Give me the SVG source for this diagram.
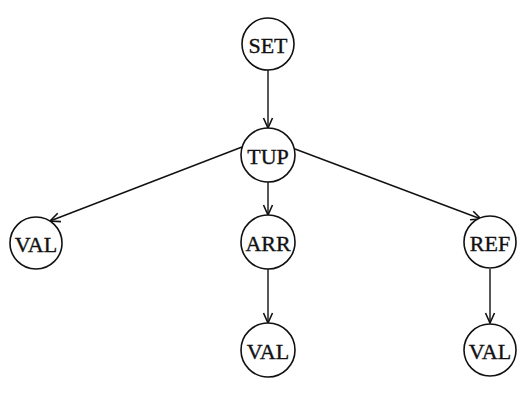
<svg xmlns="http://www.w3.org/2000/svg" width="524" height="411" viewBox="0 0 524 411">
  <style>
    .node circle { fill: #ffffff; stroke: #111111; stroke-width: 1.6; }
    .node text { font-family: "Liberation Serif", "Times New Roman", serif; font-size: 22px; fill: #111111; stroke: #111111; stroke-width: 0.35; text-anchor: middle; dominant-baseline: central; }
    .edges line { stroke: #111111; stroke-width: 1.4; marker-end: url(#arrow); }
  </style>
  <defs>
    <marker id="arrow" markerWidth="12" markerHeight="12" viewBox="0 0 12 12" refX="11" refY="6" orient="auto" markerUnits="userSpaceOnUse">
      <path d="M1,1.5 L11,6 L1,10.5" fill="none" stroke="#111111" stroke-width="1.6"/>
    </marker>
  </defs>
  <rect width="524" height="411" fill="#ffffff"/>

  <g class="edges" id="connectors">
    <line x1="268" y1="70" x2="268" y2="128"/>
    <line x1="242" y1="147" x2="50" y2="221"/>
    <line x1="268" y1="182" x2="268" y2="215"/>
    <line x1="295" y1="149" x2="481" y2="219"/>
    <line x1="268" y1="269" x2="268" y2="323"/>
    <line x1="490" y1="269" x2="490" y2="323"/>
  </g>

  <g class="node" id="n-set">
    <circle cx="268" cy="44" r="26"/>
    <text x="268" y="45">SET</text>
  </g>
  <g class="node" id="n-tup">
    <circle cx="268" cy="155" r="27"/>
    <text x="268" y="156">TUP</text>
  </g>
  <g class="node" id="n-val-left">
    <circle cx="36" cy="243" r="26"/>
    <text x="36" y="244">VAL</text>
  </g>
  <g class="node" id="n-arr">
    <circle cx="268" cy="242" r="27"/>
    <text x="268" y="243">ARR</text>
  </g>
  <g class="node" id="n-ref">
    <circle cx="490" cy="242" r="26"/>
    <text x="490" y="243">REF</text>
  </g>
  <g class="node" id="n-val-mid">
    <circle cx="268" cy="350" r="27"/>
    <text x="268" y="351">VAL</text>
  </g>
  <g class="node" id="n-val-right">
    <circle cx="490" cy="350" r="26"/>
    <text x="490" y="351">VAL</text>
  </g>
</svg>
